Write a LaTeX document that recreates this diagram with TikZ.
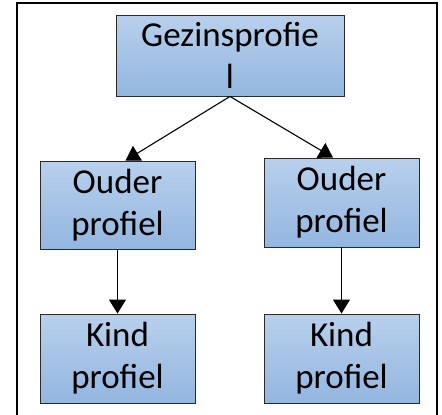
\documentclass[tikz,border=0pt]{standalone}
\usepackage{fontspec}
\setmainfont{Carlito}
\usetikzlibrary{arrows.meta}
\definecolor{boxtop}{HTML}{B8D0EC}
\definecolor{boxbot}{HTML}{93B6E0}
\definecolor{boxline}{HTML}{2A2A2A}
\tikzset{
  pbox/.style={draw=boxline, line width=0.9pt, top color=boxtop, bottom color=boxbot,
    minimum width=155pt, minimum height=88pt, inner sep=0pt, align=center,
    font=\fontsize{35}{42}\selectfont},
  conn/.style={line width=1.1pt, -{Triangle[length=14pt,width=17pt]}}
}
\begin{document}
\begin{tikzpicture}[x=1pt,y=-1pt]
\useasboundingbox (0,0) rectangle (442,415);
\draw[line width=2pt] (17,416) -- (17,3) -- (437,3) -- (437,416);
\node[pbox, minimum width=228pt, minimum height=81pt] (gz) at (230,55.5) {Gezinsprofie\\l};
\node[pbox] (o1) at (117.5,205) {Ouder\\profiel};
\node[pbox, minimum height=89pt] (o2) at (341.5,202.5) {Ouder\\profiel};
\node[pbox, minimum height=89pt] (k1) at (117.5,358.5) {Kind\\profiel};
\node[pbox, minimum height=89pt] (k2) at (341.5,358.5) {Kind\\profiel};
\draw[conn] (gz.south) -- ([xshift=8pt]o1.north);
\draw[conn] (gz.south) -- ([xshift=-8.5pt]o2.north);
\draw[conn] (o1.south) -- (k1.north);
\draw[conn] (o2.south) -- (k2.north);
\end{tikzpicture}
\end{document}
